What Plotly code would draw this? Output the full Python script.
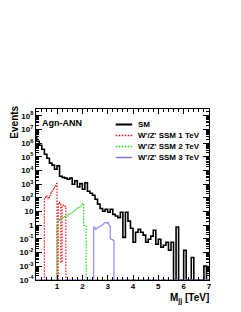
import numpy as np
import plotly.graph_objects as go

# ---------------- data ----------------
# SM background: 0.1 TeV bins starting at 0.1 TeV
sm_start = 0.1
sm_width = 0.1
sm_values = [
    3.2e6, 1.4e6, 7.0e5, 3.6e5, 1.55e5, 8.0e4, 3.5e4, 2.5e4, 1.26e4,   # 0.1-1.0
    2.2e4, 3.8e3, 3.2e3, 2.8e3, 2.3e3, 2.8e3, 1.0e3, 1.8e3, 630, 1.1e3,  # 1.0-2.0
    430, 1.3e3, 310, 220, 155, 80, 35, 17, 10.5, 15,                     # 2.0-3.0
    9, 15, 6.3, 4.8, 3.6, 8.9, 0.13, 8.9, 2.0, 0.6,                      # 3.0-4.0
    0.058, 0.31, 0.51, 0.31, 0.19, 0.058, 0.095, 0.16, 0.43, 0.041,      # 4.0-5.0
    0.095, 0.025, 0.035, 0.058, 0.015, 0.058, 0, 0.75, 0, 0,             # 5.0-6.0
    0.0148, 0, 0, 0.0044, 0, 0, 0, 0, 0.00105, 0,                        # 6.0-7.0
]

# signals: 0.05 TeV bins
sig_width = 0.05
sig1_start = 0.50   # W'/Z' SSM 1 TeV
sig1_values = [100, 140, 112, 89, 160, 224, 316, 447, 708, 1120,
               0, 45, 35, 0.002, 30, 28, 25]
sig2_start = 1.00   # W'/Z' SSM 2 TeV
sig2_values = [1.0, 2.0, 2.8, 3.3, 3.6, 4.0, 4.5, 4.6, 5.8, 6.3, 7.0,
               8.0, 9.0, 11, 14, 16, 18, 20, 25, 35, 39, 1.0, 1.0]
sig3_start = 2.45   # W'/Z' SSM 3 TeV
sig3_values = [0.75, 0.5, 0.6, 0.7, 0.8, 0.9, 1.0, 1.2, 1.5, 1.6, 1.4,
               1.55, 0.9, 0.1, 0.09, 0.08]

hist_lo, hist_hi = 0.0, 7.0
y_floor = 1e-4

series_names = ["SM", "W'/Z' SSM 1 TeV", "W'/Z' SSM 2 TeV", "W'/Z' SSM 3 TeV"]
series_colors = ["#000000", "#ff0000", "#00e000", "#7474ff"]
series_dash = ["solid", "1.5px,1.5px", "1.5px,1.5px", "solid"]
series_width = [1.6, 1.1, 1.1, 1.0]

y_tickvals = [1e-4, 1e-3, 1e-2, 1e-1, 1, 10, 1e2, 1e3, 1e4, 1e5, 1e6, 1e7, 1e8]
y_ticktext = ["10<sup>-4</sup>", "10<sup>-3</sup>", "10<sup>-2</sup>", "10<sup>-1</sup>",
              "1", "10", "10<sup>2</sup>", "10<sup>3</sup>", "10<sup>4</sup>",
              "10<sup>5</sup>", "10<sup>6</sup>", "10<sup>7</sup>", "10<sup>8</sup>"]
x_tickvals = [1, 2, 3, 4, 5, 6, 7]


def step_xy(start, width, values, pad=True):
    n = len(values)
    edges = [round(start + i * width, 4) for i in range(n + 1)]
    vals = [v if v > 0 else y_floor for v in values]
    if pad:
        xs = [hist_lo] + edges + [hist_hi]
        ys = [y_floor] + vals + [y_floor, y_floor]
    else:
        xs = edges
        ys = vals + [vals[-1]]
    return xs, ys


fig = go.Figure()
data_sets = [
    (sm_start, sm_width, sm_values, False),
    (sig1_start, sig_width, sig1_values, True),
    (sig2_start, sig_width, sig2_values, True),
    (sig3_start, sig_width, sig3_values, True),
]
for (st, w, vals, pad), name, col, dash, lw in zip(data_sets, series_names, series_colors,
                                                    series_dash, series_width):
    xs, ys = step_xy(st, w, vals, pad)
    fig.add_trace(go.Scatter(x=xs, y=ys, mode="lines", name=name,
                             line=dict(color=col, dash=dash, width=lw, shape="hv"),
                             showlegend=False, hoverinfo="skip"))

FONT = "Liberation Sans"
# page has an 8px body margin; layout in page pixels, converted to figure pixels
OFF = 8
W, H = 241 - OFF, 312 - OFF
P_L, P_T, P_R, P_B = 31, 109, 209, 280          # plot frame in page pixels
L, T = P_L - OFF, P_T - OFF
R, B = W - (P_R - OFF), H - (P_B - OFF)
pw, ph = P_R - P_L, P_B - P_T


def px2paper(px, py):
    return (px - P_L) / pw, (P_B - py) / ph


fig.update_layout(
    width=W, height=H,
    margin=dict(l=L, r=R, t=T, b=B, pad=0),
    paper_bgcolor="white", plot_bgcolor="white",
    font=dict(family=FONT, color="black", size=8, weight="bold"),
    showlegend=False,
)

fig.update_xaxes(
    range=[0.17, 7.0], showgrid=False, zeroline=False,
    showline=True, linecolor="black", linewidth=1, mirror="allticks",
    ticks="inside", ticklen=5, tickcolor="black", tickwidth=1,
    tickvals=x_tickvals, ticktext=[str(v) for v in x_tickvals],
    tickfont=dict(family=FONT, size=8, weight="bold"), ticklabelstandoff=-2,
    minor=dict(ticks="inside", ticklen=3, dtick=0.2, tick0=0, tickcolor="black"),
)
fig.update_yaxes(
    type="log", range=[-4, 8.5], showgrid=False, zeroline=False,
    showline=True, linecolor="black", linewidth=1, mirror="allticks",
    ticks="inside", ticklen=6, tickcolor="black", tickwidth=1,
    tickvals=y_tickvals, ticktext=y_ticktext,
    tickfont=dict(family=FONT, size=8, weight="bold"),
    minor=dict(ticks="inside", ticklen=3, dtick="D1", tickcolor="black"),
)

ann = []
ex, ey = px2paper(8, 122)
ann.append(dict(text="Events", x=ex, y=ey, xref="paper", yref="paper", textangle=-90,
                xanchor="center", yanchor="middle",
                showarrow=False, font=dict(family=FONT, size=10, weight="bold")))
ax_, ay_ = px2paper(35, 123)
ann.append(dict(text="Agn-ANN", x=ax_, y=ay_, xref="paper", yref="paper", xanchor="left",
                yanchor="middle", showarrow=False, font=dict(family=FONT, size=9, weight="bold")))
mx, my = px2paper(210, 291)
ann.append(dict(text="M<sub>jj</sub> [TeV]", x=mx, y=my, xref="paper", yref="paper",
                xanchor="right", yanchor="top", showarrow=False, borderpad=0,
                font=dict(family=FONT, size=10, weight="bold")))

shapes = []
row_y = [124.5, 135.5, 146.5, 157.5]
for name, col, dash, lw, ry in zip(series_names, series_colors, series_dash, series_width, row_y):
    x0, yy = px2paper(113, ry)
    x1, _ = px2paper(130, ry)
    shapes.append(dict(type="line", xref="paper", yref="paper", x0=x0, x1=x1, y0=yy, y1=yy,
                       line=dict(color=col, dash=dash, width=lw + 0.4)))
    tx, _ = px2paper(134, ry)
    ann.append(dict(text=name, x=tx, y=yy, xref="paper", yref="paper", xanchor="left",
                    yanchor="middle", showarrow=False,
                    font=dict(family=FONT, size=8, weight="bold")))

fig.update_layout(annotations=ann, shapes=shapes)
fig.write_html("out.html")
